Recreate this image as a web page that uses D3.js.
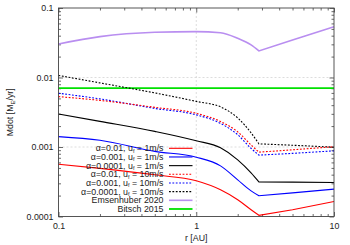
<!DOCTYPE html>
<html>
<head>
<meta charset="utf-8">
<script src="https://cdn.jsdelivr.net/npm/d3@7"></script>
<style>
  body { margin: 0; background: #fff; }
  svg text { font-family: "Liberation Sans", Arial, sans-serif; font-size: 8.8px; fill: #222; }
</style>
</head>
<body>
<div id="chart"></div>
<script>
const radius = [0.1, 0.2, 0.5, 1, 1.5, 2, 2.5, 2.85, 5, 10];
const snowLine = 2.85;

// Mdot values [M_E/yr] for each series
const a01_u1 = [0.000566, 0.000493, 0.000398, 0.000326, 0.000242, 0.000174, 0.000125, 0.000104, 0.000125, 0.000164];
const a001_u1 = [0.00141, 0.00125, 0.000865, 0.000714, 0.000535, 0.000337, 0.000234, 0.000199, 0.000219, 0.000248];
const a0001_u1 = [0.00299, 0.00234, 0.00168, 0.00123, 0.000973, 0.000654, 0.000425, 0.000315, 0.000312, 0.000308];
const a01_u10 = [0.00531, 0.00468, 0.00372, 0.00305, 0.00233, 0.00165, 0.00107, 0.000843, 0.00091, 0.00101];
const a001_u10 = [0.00594, 0.00492, 0.00359, 0.0029, 0.00219, 0.0015, 0.000955, 0.000764, 0.00081, 0.00088];
const a0001_u10 = [0.0107, 0.00836, 0.0060, 0.00453, 0.00378, 0.00262, 0.0016, 0.00111, 0.00106, 0.000995];
const emsenhuber = [0.0304, 0.0387, 0.0447, 0.0457, 0.0441, 0.0366, 0.0294, 0.0241, 0.0347, 0.0539];
const bitsch = [0.00705, 0.00705, 0.00705, 0.00705, 0.00705, 0.00705, 0.00705, 0.00705, 0.00705, 0.00705];

const alphaLabels = ["0.01", "0.001", "0.0001", "0.01", "0.001", "0.0001"];
const speedLabels = ["1m/s", "1m/s", "1m/s", "10m/s", "10m/s", "10m/s"];

const xTicks = [0.1, 1, 10];
const yTicks = [0.0001, 0.001, 0.01, 0.1];

const series = [
  { values: a01_u1, color: "#ff0000", dash: null, width: 1.1 },
  { values: a001_u1, color: "#0000ff", dash: null, width: 1.1 },
  { values: a0001_u1, color: "#000000", dash: null, width: 1.1 },
  { values: a01_u10, color: "#ff0000", dash: "1.8,1.6", width: 1.1 },
  { values: a001_u10, color: "#0000ff", dash: "1.8,1.6", width: 1.1 },
  { values: a0001_u10, color: "#000000", dash: "1.8,1.6", width: 1.1 },
  { values: emsenhuber, color: "#b98ef0", dash: null, width: 1.6, label: "Emsenhuber 2020" },
  { values: bitsch, color: "#00e000", dash: null, width: 1.8, label: "Bitsch 2015" }
];

const width = 350, height = 245;
const mLeft = 58.5, mRight = 334, mTop = 8, mBottom = 216.5;

const svg = d3.select("#chart").append("svg")
  .attr("width", width)
  .attr("height", height);

const x = d3.scaleLog().domain([0.1, 10]).range([mLeft, mRight]);
const y = d3.scaleLog().domain([0.0001, 0.1]).range([mBottom, mTop]);

// minor ticks 2..9 per decade
const xMinor = [];
[0.1, 1].forEach(d => { for (let k = 2; k <= 9; k++) xMinor.push(d * k); });
const yMinor = [];
[0.0001, 0.001, 0.01].forEach(d => { for (let k = 2; k <= 9; k++) yMinor.push(d * k); });

// grid lines at the inner major ticks
const grid = svg.append("g")
  .attr("stroke", "#cfcfcf")
  .attr("stroke-width", 0.7)
  .attr("stroke-dasharray", "2,2");
grid.selectAll("line.h")
  .data([0.001, 0.01])
  .enter().append("line")
  .attr("x1", mLeft).attr("x2", mRight)
  .attr("y1", d => y(d)).attr("y2", d => y(d));
grid.selectAll("line.v")
  .data([1])
  .enter().append("line")
  .attr("x1", d => x(d)).attr("x2", d => x(d))
  .attr("y1", mTop).attr("y2", mBottom);

// axes, ticks pointing inward on all four sides
function styleAxis(g) {
  g.select(".domain").remove();
  g.selectAll(".tick line").attr("stroke", "#444").attr("stroke-width", 0.8);
  g.selectAll(".tick text").attr("fill", "#222").attr("font-size", "8.8px")
    .attr("font-family", "Liberation Sans, Arial, sans-serif");
}

const fmt = d => d3.format("~g")(d);

svg.append("g").attr("transform", `translate(${mLeft},0)`)
  .call(d3.axisLeft(y).tickValues(yTicks).tickFormat(fmt).tickSizeInner(-4.5).tickPadding(5))
  .call(styleAxis);
svg.append("g").attr("transform", `translate(${mLeft},0)`)
  .call(d3.axisLeft(y).tickValues(yMinor).tickFormat("").tickSizeInner(-2.5))
  .call(styleAxis);
svg.append("g").attr("transform", `translate(${mRight},0)`)
  .call(d3.axisRight(y).tickValues(yTicks).tickFormat("").tickSizeInner(-4.5))
  .call(styleAxis);
svg.append("g").attr("transform", `translate(${mRight},0)`)
  .call(d3.axisRight(y).tickValues(yMinor).tickFormat("").tickSizeInner(-2.5))
  .call(styleAxis);

svg.append("g").attr("transform", `translate(0,${mBottom})`)
  .call(d3.axisBottom(x).tickValues(xTicks).tickFormat(fmt).tickSizeInner(-4.5).tickPadding(6))
  .call(styleAxis);
svg.append("g").attr("transform", `translate(0,${mBottom})`)
  .call(d3.axisBottom(x).tickValues(xMinor).tickFormat("").tickSizeInner(-2.5))
  .call(styleAxis);
svg.append("g").attr("transform", `translate(0,${mTop})`)
  .call(d3.axisTop(x).tickValues(xTicks).tickFormat("").tickSizeInner(-4.5))
  .call(styleAxis);
svg.append("g").attr("transform", `translate(0,${mTop})`)
  .call(d3.axisTop(x).tickValues(xMinor).tickFormat("").tickSizeInner(-2.5))
  .call(styleAxis);

// curves: smooth up to the snow line, straight after it (sharp knee)
const smooth = d3.line().x(d => x(d[0])).y(d => y(d[1])).curve(d3.curveMonotoneX);
const straight = d3.line().x(d => x(d[0])).y(d => y(d[1]));

function curvePath(values) {
  const pts = radius.map((r, i) => [r, values[i]]);
  const inner = pts.filter(p => p[0] <= snowLine);
  const outer = pts.filter(p => p[0] >= snowLine);
  return smooth(inner) + straight(outer).replace(/^M/, "L");
}

const curves = svg.append("g");
series.slice().reverse().forEach(s => {
  curves.append("path")
    .attr("d", curvePath(s.values))
    .attr("fill", "none")
    .attr("stroke", s.color)
    .attr("stroke-width", s.width)
    .attr("stroke-dasharray", s.dash);
});

// frame
svg.append("rect")
  .attr("x", mLeft).attr("y", mTop)
  .attr("width", mRight - mLeft).attr("height", mBottom - mTop)
  .attr("fill", "none")
  .attr("stroke", "#444")
  .attr("stroke-width", 0.9);

// legend
const legend = svg.append("g");
const rowY = i => 148.3 + i * 8.67;
series.forEach((s, i) => {
  const t = legend.append("text")
    .attr("x", 163.5)
    .attr("y", rowY(i) + 3)
    .attr("text-anchor", "end")
    .attr("font-size", "8.4px");
  if (s.label) {
    t.text(s.label);
  } else {
    t.append("tspan").text("\u03b1=" + alphaLabels[i] + ", u");
    t.append("tspan").attr("dy", 1.5).attr("font-size", "5.5px").text("f");
    t.append("tspan").attr("dy", -1.5).text(" = " + speedLabels[i]);
  }
  legend.append("line")
    .attr("x1", 169).attr("x2", 192.5)
    .attr("y1", rowY(i)).attr("y2", rowY(i))
    .attr("stroke", s.color)
    .attr("stroke-width", s.width)
    .attr("stroke-dasharray", s.dash);
});

// axis titles
const yl = svg.append("text")
  .attr("transform", `translate(12.5,${(mTop + mBottom) / 2}) rotate(-90)`)
  .attr("text-anchor", "middle");
yl.append("tspan").text("Mdot [M");
yl.append("tspan").attr("dy", 2).attr("font-size", "6px").text("E");
yl.append("tspan").attr("dy", -2).text("/yr]");

svg.append("text")
  .attr("x", (mLeft + mRight) / 2)
  .attr("y", 241)
  .attr("text-anchor", "middle")
  .text("r [AU]");
</script>
</body>
</html>
